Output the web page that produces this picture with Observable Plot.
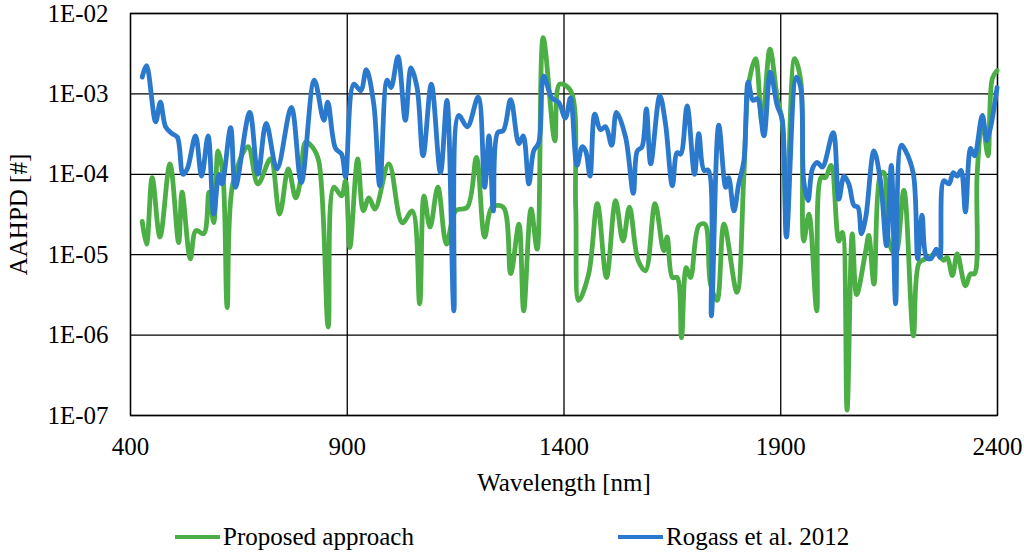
<!DOCTYPE html>
<html>
<head>
<meta charset="utf-8">
<script src="https://cdn.jsdelivr.net/npm/d3@7"></script>
<script src="https://cdn.jsdelivr.net/npm/@observablehq/plot@0.6"></script>
<style>
  body { margin: 0; background: #fff; font-family: "Liberation Serif", "Times New Roman", serif; }
  #chart { position: relative; width: 1024px; height: 554px; }
  .key { position: absolute; top: 523px; display: flex; align-items: center; font-size: 25px; color: #000; }
  .key span { display: inline-block; width: 45px; height: 4px; margin-right: 3px; }
</style>
</head>
<body>
<div id="chart"></div>
<script>
// ejes
const xTicks = [400, 900, 1400, 1900, 2400]
const yTicks = [1e-7, 1e-6, 1e-5, 1e-4, 1e-3, 1e-2]

// Proposed approach (verde)
const wlProposed = [427, 437, 450, 468, 491, 511, 519, 538, 551, 569, 581, 592, 602, 613, 623, 636, 671, 694, 723, 744,
  764, 781, 792, 804, 819, 834, 856, 869, 887, 896, 906, 924, 937, 950, 964, 996, 1027, 1050, 1067, 1077,
  1091, 1109, 1129, 1150, 1177, 1198, 1217, 1234, 1260, 1277, 1296, 1307, 1324, 1338, 1352, 1379, 1390, 1415, 1427, 1434,
  1457, 1477, 1498, 1519, 1536, 1551, 1571, 1588, 1610, 1630, 1638, 1650, 1661, 1671, 1682, 1692, 1711, 1725, 1738, 1753,
  1769, 1799, 1815, 1826, 1842, 1857, 1875, 1892, 1903, 1913, 1932, 1946, 1953, 1965, 1983, 1993, 2003, 2016, 2034, 2042,
  2053, 2065, 2075, 2096, 2103, 2115, 2130, 2138, 2149, 2165, 2184, 2206, 2219, 2234, 2261, 2276, 2284, 2296, 2307, 2326,
  2338, 2347, 2353, 2365, 2378, 2388, 2399]
const aahpdProposed = [2.6e-5, 1.35e-5, 9.1e-5, 1.66e-5, 1.35e-4, 1.41e-5, 6.0e-5, 8.9e-6, 2.0e-5, 1.82e-5, 6.0e-5, 2.5e-5, 1.95e-4, 1.0e-4, 2.2e-6, 7.6e-5, 2.2e-4, 7.6e-5, 1.55e-4, 3.2e-5,
  1.17e-4, 5.1e-5, 8.3e-5, 2.5e-4, 2.2e-4, 1.48e-4, 1.26e-6, 6.9e-5, 5.4e-5, 8.3e-5, 1.23e-5, 1.55e-4, 3.5e-5, 5.1e-5, 3.7e-5, 1.35e-4, 2.5e-5, 3.5e-5, 2.45e-6, 5.4e-5,
  2.2e-5, 6.9e-5, 1.35e-5, 3.5e-5, 3.9e-5, 1.62e-4, 1.66e-5, 3.9e-5, 3.9e-5, 5.8e-6, 2.4e-5, 2.0e-6, 3.7e-5, 1.17e-5, 5.0e-3, 2.6e-4, 1.32e-3, 1.1e-3, 3.9e-5, 2.7e-6,
  5.8e-6, 4.3e-5, 5.2e-6, 4.7e-5, 1.48e-5, 3.9e-5, 8.5e-6, 6.3e-6, 4.3e-5, 1.12e-5, 1.66e-5, 5.2e-6, 5.2e-6, 9.3e-7, 6.9e-6, 5.2e-6, 2.3e-5, 2.4e-5, 4.3e-6, 2.7e-6,
  2.4e-5, 3.4e-6, 1.0e-4, 1.32e-3, 2.75e-3, 4.3e-4, 3.6e-3, 8.9e-4, 4.7e-4, 2.5e-5, 2.75e-3, 1.48e-3, 1.48e-5, 3.2e-5, 2.0e-6, 9.1e-5, 9.1e-5, 1.29e-4, 1.48e-5, 1.9e-5,
  1.17e-7, 1.82e-5, 3.2e-6, 1.12e-5, 1.74e-5, 4.3e-6, 1.0e-4, 1.05e-4, 1.48e-5, 1.0e-5, 6.3e-5, 9.8e-7, 7.9e-6, 8.9e-6, 1.02e-5, 8.5e-6, 9.3e-6, 5.5e-6, 1.02e-5, 4.1e-6,
  5.8e-6, 5.8e-6, 1.0e-4, 4.7e-4, 1.7e-4, 1.55e-3, 1.95e-3]

// Rogass et al. 2012 (azul)
const wlRogass = [427, 437, 458, 469, 481, 496, 508, 521, 531, 550, 564, 579, 592, 604, 611, 631, 642, 675, 694, 713,
  738, 771, 794, 824, 846, 855, 873, 887, 896, 915, 931, 944, 961, 975, 992, 1001, 1017, 1034, 1047, 1061,
  1075, 1094, 1115, 1130, 1146, 1157, 1177, 1202, 1217, 1227, 1237, 1247, 1260, 1277, 1296, 1306, 1319, 1330, 1342, 1353,
  1372, 1388, 1403, 1415, 1430, 1442, 1450, 1460, 1471, 1484, 1496, 1510, 1521, 1542, 1560, 1569, 1580, 1590, 1600, 1621,
  1634, 1650, 1661, 1669, 1684, 1701, 1711, 1723, 1733, 1740, 1757, 1773, 1780, 1792, 1803, 1815, 1825, 1836, 1846, 1861,
  1876, 1892, 1903, 1913, 1936, 1946, 1953, 1963, 1973, 1984, 1996, 2021, 2034, 2046, 2057, 2069, 2078, 2086, 2096, 2115,
  2130, 2144, 2155, 2165, 2178, 2188, 2206, 2216, 2226, 2236, 2246, 2259, 2267, 2276, 2288, 2298, 2307, 2316, 2326, 2338,
  2347, 2365, 2376, 2399]
const aahpdRogass = [1.62e-3, 2.24e-3, 4.5e-4, 7.9e-4, 3.9e-4, 3.2e-4, 2.9e-4, 1.0e-4, 1.17e-4, 3.0e-4, 9.5e-5, 3.0e-4, 3.2e-5, 1.0e-4, 7.6e-5, 3.8e-4, 6.9e-5, 5.9e-4, 1.0e-4, 4.3e-4,
  1.17e-4, 6.8e-4, 7.9e-5, 1.48e-3, 4.7e-4, 7.9e-4, 2.1e-4, 1.78e-4, 9.3e-5, 1.32e-3, 1.1e-3, 2.0e-3, 7.6e-4, 7.2e-5, 1.48e-3, 1.2e-3, 2.9e-3, 4.7e-4, 2.1e-3, 1.2e-3,
  1.7e-4, 1.32e-3, 1.05e-4, 8.3e-4, 2.0e-6, 5.4e-4, 3.9e-4, 9.1e-4, 6.9e-5, 3.0e-4, 3.5e-5, 3.3e-4, 3.5e-4, 8.5e-4, 2.4e-4, 3.0e-4, 7.6e-5, 1.95e-4, 2.5e-4, 1.66e-3,
  8.9e-4, 7.8e-4, 5.0e-4, 8.9e-4, 1.29e-4, 2.2e-4, 1.95e-4, 9.5e-5, 5.6e-4, 3.6e-4, 3.9e-4, 2.3e-4, 5.9e-4, 2.9e-4, 5.8e-5, 1.95e-4, 2.2e-4, 6.5e-4, 1.35e-4, 9.5e-4,
  4.3e-4, 7.2e-5, 1.86e-4, 1.78e-4, 7.1e-4, 1.0e-4, 3.2e-4, 1.12e-4, 1.12e-4, 1.74e-6, 4.1e-4, 6.9e-5, 9.1e-5, 3.5e-5, 7.6e-5, 1.48e-4, 1.41e-3, 8.3e-4, 8.7e-4, 3.0e-4,
  1.86e-3, 7.1e-4, 4.9e-4, 1.66e-5, 1.62e-3, 1.2e-3, 8.3e-5, 4.7e-5, 1.17e-4, 1.41e-4, 1.23e-4, 3.3e-4, 4.9e-5, 9.5e-5, 7.6e-5, 4.1e-5, 3.9e-5, 1.82e-5, 2.9e-5, 1.95e-4,
  8.3e-5, 1.29e-5, 1.29e-4, 2.45e-6, 2.3e-4, 1.95e-4, 1.0e-4, 8.9e-6, 3.1e-5, 9.3e-6, 8.9e-6, 1.17e-5, 9.3e-6, 8.3e-5, 7.6e-5, 1.05e-4, 9.5e-5, 1.12e-4, 3.4e-5, 2.1e-4,
  1.7e-4, 5.4e-4, 2.6e-4, 1.2e-3]

const verde = "#4caf45"
const azul = "#2b79cc"

const proposed = wlProposed.map((w, i) => ({wl: w, v: aahpdProposed[i]}))
const rogass = wlRogass.map((w, i) => ({wl: w, v: aahpdRogass[i]}))

// 1e-5 -> "1E-05"
const fmtE = d => {
  const e = Math.round(Math.log10(d))
  return "1E-" + String(-e).padStart(2, "0")
}

const sombra = "drop-shadow(1px 2px 1.5px rgba(0,0,0,0.25))"

const chart = Plot.plot({
  width: 1024,
  height: 505,
  marginLeft: 130,
  marginRight: 27,
  marginTop: 13,
  marginBottom: 90,
  style: {fontFamily: "Liberation Serif, Times New Roman, serif", fontSize: "25px", color: "black", background: "white", overflow: "visible"},
  x: {type: "linear", domain: [400, 2400]},
  y: {type: "log", domain: [1e-7, 1e-2]},
  marks: [
    Plot.ruleX(xTicks, {stroke: "black", strokeWidth: 1.3}),
    Plot.ruleY(yTicks, {stroke: "black", strokeWidth: 1.3}),
    Plot.frame({stroke: "black", strokeWidth: 1.3}),
    Plot.line(proposed, {x: "wl", y: "v", stroke: verde, strokeWidth: 4.8, curve: "catmull-rom", style: {filter: sombra}}),
    Plot.line(rogass, {x: "wl", y: "v", stroke: azul, strokeWidth: 4.8, curve: "catmull-rom", style: {filter: sombra}}),
    Plot.axisX(xTicks, {tickSize: 0, tickPadding: 22, fontSize: 25, tickFormat: d => String(d), label: null}),
    Plot.axisY(yTicks, {tickSize: 0, tickPadding: 22, fontSize: 25, tickFormat: fmtE, label: null}),
    Plot.text(["Wavelength [nm]"], {text: d => d, frameAnchor: "bottom", lineAnchor: "middle", textAnchor: "middle", dy: 67, fontSize: 25}),
    Plot.text(["AAHPD [#]"], {text: d => d, frameAnchor: "left", lineAnchor: "middle", textAnchor: "middle", dx: -112, rotate: -90, fontSize: 25})
  ]
})

const cont = d3.select("#chart")
cont.append(() => chart)

// leyenda debajo del svg
const leyenda = [
  {label: "Proposed approach", color: verde, left: 175},
  {label: "Rogass et al. 2012", color: azul, left: 618}
]
leyenda.forEach(d => {
  const k = cont.append("div").attr("class", "key").style("left", d.left + "px")
  k.append("span").style("background", d.color)
  k.append("div").text(d.label)
})
</script>
</body>
</html>
